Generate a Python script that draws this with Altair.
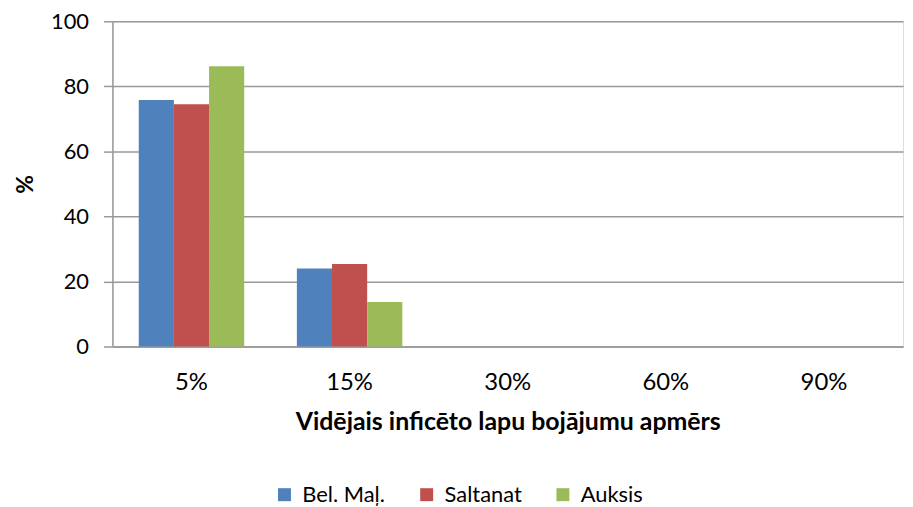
import altair as alt
import pandas as pd

categories = ["5%", "15%", "30%", "60%", "90%"]
series = ["Bel. Maļ.", "Saltanat", "Auksis"]
bel_maj = [75.8, 24.0, 0, 0, 0]
saltanat = [74.5, 25.4, 0, 0, 0]
auksis = [86.2, 13.7, 0, 0, 0]
colors = ["#4F81BD", "#C0504D", "#9BBB59"]

rows = []
for name, vals in zip(series, [bel_maj, saltanat, auksis]):
    for c, v in zip(categories, vals):
        rows.append({"cat": c, "series": name, "value": v})
df = pd.DataFrame(rows)

FONT = "Lato"

chart = alt.Chart(df).mark_bar(strokeWidth=0).encode(
    x=alt.X("cat:N", sort=categories,
            scale=alt.Scale(paddingInner=0.333, paddingOuter=0.1665),
            axis=alt.Axis(title="Vidējais inficēto lapu bojājumu apmērs", labelAngle=0,
                          labelFontSize=24, labelColor="#000", labelFont=FONT, labelPadding=24,
                          ticks=False, domainColor="#999999", domainWidth=1.5,
                          titleFontSize=25, titleFont=FONT, titleFontWeight="bold",
                          titlePadding=15, titleColor="#000")),
    xOffset=alt.XOffset("series:N", sort=series),
    y=alt.Y("value:Q", scale=alt.Scale(domain=[0, 100], nice=False),
            axis=alt.Axis(title="%", values=[0, 20, 40, 60, 80, 100], grid=True,
                          gridColor="#999999", gridWidth=1.5, tickColor="#999999",
                          tickSize=9, tickWidth=1.5, domainColor="#999999", domainWidth=1.5,
                          labelFontSize=22, labelColor="#000", labelFont=FONT, labelPadding=15,
                          titleFontSize=23, titleFont=FONT, titleFontWeight="bold",
                          titleColor="#000", titlePadding=13)),
    color=alt.Color("series:N", sort=series,
                    scale=alt.Scale(domain=series, range=colors),
                    legend=alt.Legend(title=None, orient="none", direction="horizontal",
                                      legendX=162, legendY=465, symbolType="square",
                                      symbolSize=170, symbolStrokeWidth=0,
                                      labelFontSize=22, labelFont=FONT, labelColor="#000",
                                      columnPadding=30, labelOffset=7)),
).properties(
    width=795, height=327,
    autosize=alt.AutoSizeParams(type="none"),
    padding={"left": 105, "top": 12, "right": 2, "bottom": 160},
).configure_view(stroke=None).configure(background="white")

chart.save("out.html", embed_options={"renderer": "svg", "actions": False})
